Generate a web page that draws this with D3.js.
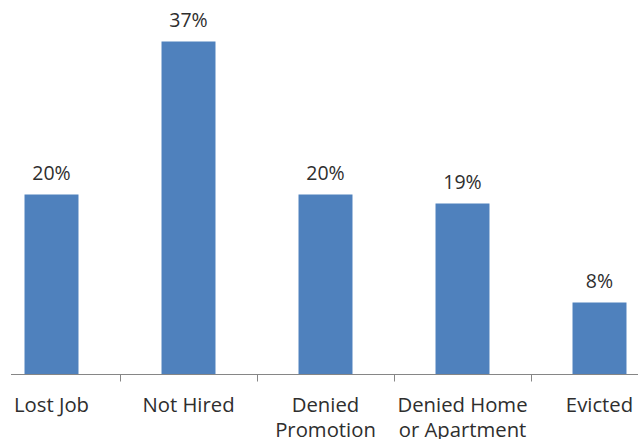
<!DOCTYPE html>
<html>
<head>
<meta charset="utf-8">
<script src="https://cdn.jsdelivr.net/npm/d3@7"></script>
<style>
  html, body { margin: 0; padding: 0; background: #fff; }
  svg { display: block; }
  text { font-family: "Open Sans", sans-serif; fill: #2e2e2e; }
</style>
</head>
<body>
<div id="chart"></div>
<script>
"use strict";

const categories = ["Lost Job", "Not Hired", "Denied Promotion", "Denied Home or Apartment", "Evicted"];
const labelLines = [["Lost Job"], ["Not Hired"], ["Denied", "Promotion"], ["Denied Home", "or Apartment"], ["Evicted"]];
const values = [0.20, 0.37, 0.20, 0.19, 0.08];

const width = 638;
const height = 439;
const baseY = 374.5;

const svg = d3.select("#chart").append("svg")
    .attr("width", width)
    .attr("height", height);

const x = d3.scaleBand()
    .domain(categories)
    .range([-17, 668])
    .paddingInner(0.606)
    .paddingOuter(0.303);

const y = d3.scaleLinear()
    .domain([0, 0.40])
    .range([baseY, baseY - 360]);

// bars
svg.selectAll("rect.bar")
    .data(values)
    .join("rect")
    .attr("class", "bar")
    .attr("x", (d, i) => x(categories[i]))
    .attr("y", d => y(d))
    .attr("width", x.bandwidth())
    .attr("height", d => y(0) - y(d))
    .attr("fill", "#4F81BD");

// value labels
svg.selectAll("text.value")
    .data(values)
    .join("text")
    .attr("class", "value")
    .attr("x", (d, i) => x(categories[i]) + x.bandwidth() / 2)
    .attr("y", d => y(d) - 15)
    .attr("text-anchor", "middle")
    .style("font-size", "19.5px")
    .text(d => d3.format(".0%")(d));

// axis line and ticks between categories
svg.append("line")
    .attr("x1", 11).attr("x2", width)
    .attr("y1", baseY).attr("y2", baseY)
    .attr("stroke", "#868686")
    .attr("stroke-width", 1);

const step = x.step();
const tickXs = categories.slice(1).map(c => Math.round(x(c) - step * x.paddingInner() / 2) + 0.5);
svg.selectAll("line.tick")
    .data(tickXs)
    .join("line")
    .attr("class", "tick")
    .attr("x1", d => d).attr("x2", d => d)
    .attr("y1", baseY).attr("y2", baseY + 7)
    .attr("stroke", "#868686");

// category labels
const cat = svg.selectAll("text.cat")
    .data(categories)
    .join("text")
    .attr("class", "cat")
    .attr("text-anchor", "middle")
    .attr("y", 411.5)
    .style("font-size", "20.3px");

cat.each(function (c, i) {
    d3.select(this).selectAll("tspan")
        .data(labelLines[i])
        .join("tspan")
        .attr("x", x(c) + x.bandwidth() / 2)
        .attr("dy", (d, j) => j === 0 ? 0 : 25.7)
        .text(d => d);
});
</script>
</body>
</html>
